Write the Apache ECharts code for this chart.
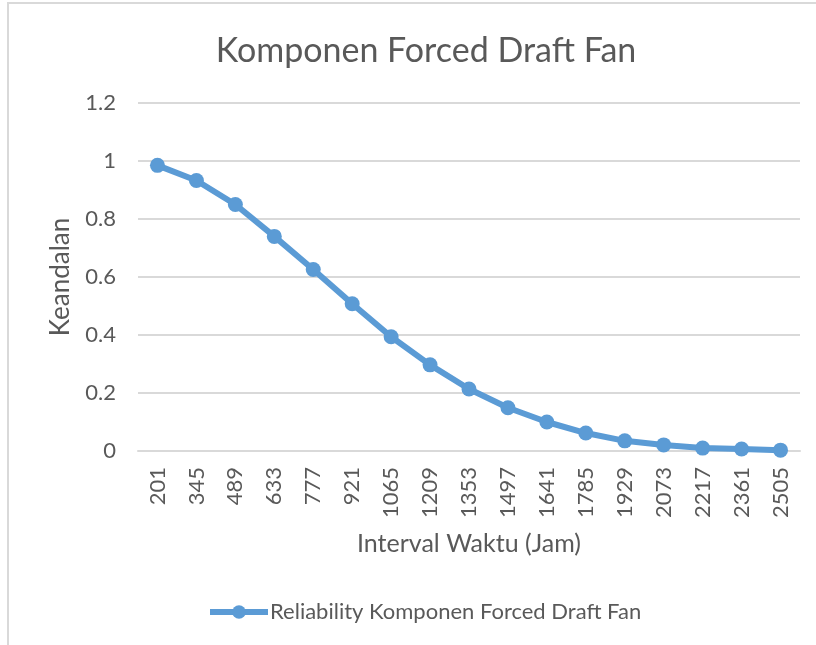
<!DOCTYPE html>
<html>
<head>
<meta charset="utf-8">
<script src="https://cdn.jsdelivr.net/npm/echarts@6/dist/echarts.min.js"></script>
<style>
  html, body { margin: 0; padding: 0; background: #fff; }
  #chart { width: 816px; height: 645px; }
</style>
</head>
<body>
<div id="chart"></div>
<script>
// data
const intervalJam = ['201','345','489','633','777','921','1065','1209','1353','1497','1641','1785','1929','2073','2217','2361','2505']
const reliability = [0.985,0.933,0.850,0.740,0.626,0.508,0.394,0.297,0.214,0.149,0.100,0.062,0.035,0.021,0.010,0.007,0.003]
const yTicks = [0, 0.2, 0.4, 0.6, 0.8, 1, 1.2]

const fontName = 'Lato'
const textColor = '#595959'
const lineColor = '#5B9BD5'

const myChart = echarts.init(document.getElementById('chart'))
const option = {
    backgroundColor: '#fff',
    textStyle: { fontFamily: fontName },
    graphic: [{
        type: 'rect',
        shape: { x: 8, y: 3, width: 900, height: 700 },
        style: { fill: 'none', stroke: '#d9d9d9', lineWidth: 2 },
        silent: true
    }],
    title: {
        text: 'Komponen Forced Draft Fan',
        left: 421,
        top: 29,
        textAlign: 'center',
        textStyle: { fontFamily: fontName, fontSize: 34, fontWeight: 'normal', color: textColor }
    },
    legend: {
        top: 596,
        left: 202,
        itemWidth: 58,
        itemHeight: 17,
        itemGap: 4,
        data: ['Reliability Komponen Forced Draft Fan'],
        lineStyle: { width: 6 },
        textStyle: { fontFamily: fontName, fontSize: 22, color: textColor, padding: [0, 0, 0, -3] }
    },
    grid: { left: 138, right: 16, top: 103, bottom: 194 },
    xAxis: {
        type: 'category',
        data: intervalJam,
        boundaryGap: true,
        name: 'Interval Waktu (Jam)',
        nameLocation: 'middle',
        nameGap: 80,
        nameTextStyle: { fontFamily: fontName, fontSize: 25, color: textColor },
        axisLine: { lineStyle: { color: '#d9d9d9', width: 2 } },
        axisTick: { show: false },
        axisLabel: { rotate: 90, fontSize: 22, color: textColor, margin: 16, fontFamily: fontName }
    },
    yAxis: {
        type: 'value',
        min: yTicks[0],
        max: yTicks[yTicks.length - 1],
        interval: 0.2,
        name: 'Keandalan',
        nameLocation: 'middle',
        nameGap: 64,
        nameTextStyle: { fontFamily: fontName, fontSize: 26, color: textColor },
        axisLine: { show: false },
        axisTick: { show: false },
        axisLabel: {
            fontSize: 22, color: textColor, margin: 22, fontFamily: fontName,
            formatter: v => String(Math.round(v * 10) / 10)
        },
        splitLine: { lineStyle: { color: '#d9d9d9', width: 2 } }
    },
    series: [{
        name: 'Reliability Komponen Forced Draft Fan',
        type: 'line',
        data: reliability,
        symbol: 'circle',
        symbolSize: 15,
        lineStyle: { color: lineColor, width: 6 },
        itemStyle: { color: lineColor },
        animation: false
    }]
}
myChart.setOption(option)
</script>
</body>
</html>
